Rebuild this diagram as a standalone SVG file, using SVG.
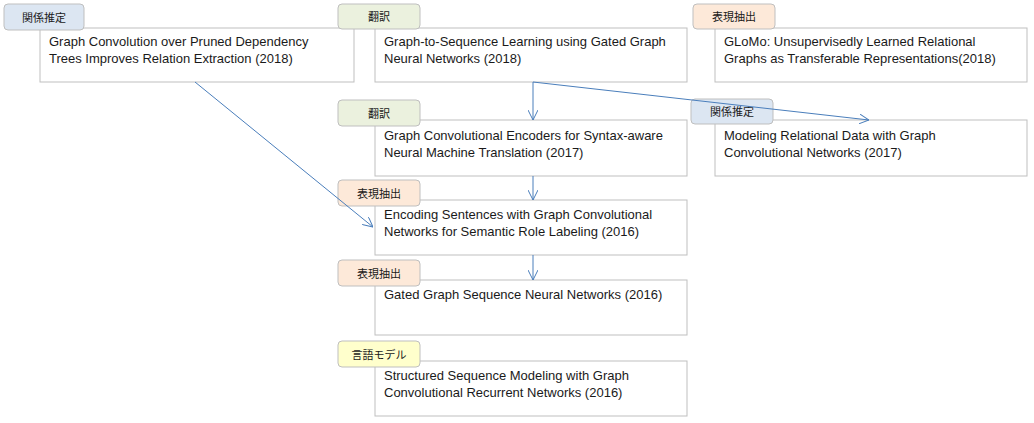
<svg xmlns="http://www.w3.org/2000/svg" width="1034" height="423" viewBox="0 0 1034 423">
<style>
.box{fill:#fff;stroke:#bfbfbf;stroke-width:1}
.t{font-family:"Liberation Sans",Arial,sans-serif;font-size:13px;fill:#1a1a1a}
.tag{stroke:#bfbfbf;stroke-width:1}
.tt{font-family:"Noto Sans CJK JP",sans-serif;font-size:11px;fill:#1a1a1a;text-anchor:middle}
.r{fill:#dce6f2}.g{fill:#ebf1de}.o{fill:#fde9d9}.y{fill:#ffffcc}
.c{stroke:#4a7ebb;stroke-width:1;fill:none;marker-end:url(#a)}
</style>
<defs><marker id="a" viewBox="0 0 10 10" refX="10" refY="5" markerWidth="10" markerHeight="10" markerUnits="userSpaceOnUse" orient="auto"><path d="M0,0L10,5L0,10" fill="none" stroke="#4a7ebb"/></marker></defs>
<g id="n1"><rect class="box" x="40" y="28" width="314" height="54"/><text class="t" x="49" y="46">Graph Convolution over Pruned Dependency</text><text class="t" x="49" y="63">Trees Improves Relation Extraction (2018)</text><rect class="tag r" x="4" y="4" width="80" height="26" rx="4"/><text class="tt" x="44" y="22">関係推定</text></g>
<g id="n2"><rect class="box" x="375" y="28" width="312" height="54"/><text class="t" x="384" y="46">Graph-to-Sequence Learning using Gated Graph</text><text class="t" x="384" y="63">Neural Networks (2018)</text><rect class="tag g" x="338" y="4" width="82" height="25" rx="4"/><text class="tt" x="379" y="21">翻訳</text></g>
<g id="n3"><rect class="box" x="715" y="28" width="312" height="54"/><text class="t" x="724" y="46">GLoMo: Unsupervisedly Learned Relational</text><text class="t" x="724" y="63">Graphs as Transferable Representations(2018)</text><rect class="tag o" x="693" y="4" width="82" height="25" rx="4"/><text class="tt" x="734" y="21">表現抽出</text></g>
<g id="n4"><rect class="box" x="375" y="120" width="312" height="56"/><text class="t" x="384" y="140">Graph Convolutional Encoders for Syntax-aware</text><text class="t" x="384" y="157">Neural Machine Translation (2017)</text><rect class="tag g" x="338" y="100" width="82" height="26" rx="4"/><text class="tt" x="379" y="118">翻訳</text></g>
<g id="n5"><rect class="box" x="715" y="120" width="312" height="56"/><text class="t" x="724" y="140">Modeling Relational Data with Graph</text><text class="t" x="724" y="157">Convolutional Networks (2017)</text><rect class="tag r" x="691" y="99" width="82" height="25" rx="4"/><text class="tt" x="732" y="116">関係推定</text></g>
<g id="n6"><rect class="box" x="375" y="200" width="312" height="55"/><text class="t" x="384" y="219">Encoding Sentences with Graph Convolutional</text><text class="t" x="384" y="236">Networks for Semantic Role Labeling (2016)</text><rect class="tag o" x="338" y="180" width="82" height="26" rx="4"/><text class="tt" x="379" y="198">表現抽出</text></g>
<g id="n7"><rect class="box" x="375" y="280" width="312" height="55"/><text class="t" x="384" y="299">Gated Graph Sequence Neural Networks (2016)</text><rect class="tag o" x="338" y="260" width="82" height="26" rx="4"/><text class="tt" x="379" y="278">表現抽出</text></g>
<g id="n8"><rect class="box" x="375" y="361" width="312" height="55"/><text class="t" x="384" y="380">Structured Sequence Modeling with Graph</text><text class="t" x="384" y="397">Convolutional Recurrent Networks (2016)</text><rect class="tag y" x="338" y="341" width="82" height="26" rx="4"/><text class="tt" x="379" y="359">言語モデル</text></g>
<g id="connectors">
<path class="c" d="M533,82V120"/>
<path class="c" d="M533,82L869,120"/>
<path class="c" d="M533,176V200"/>
<path class="c" d="M533,255V280"/>
<path class="c" d="M195,82L373,227"/>
</g>
</svg>
